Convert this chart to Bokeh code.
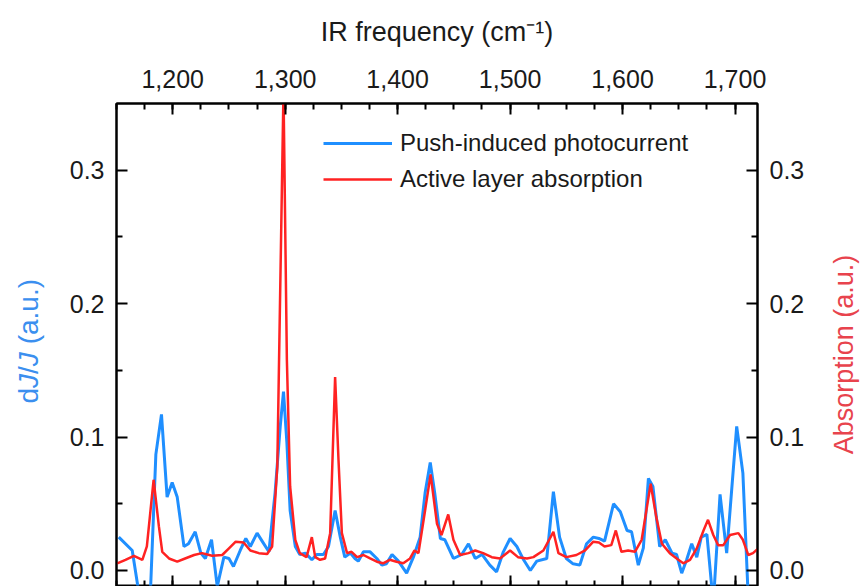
import math
from bokeh.plotting import figure
from bokeh.layouts import row
from bokeh.core.properties import value
from bokeh.models import (Range1d, LinearAxis, FixedTicker, NumeralTickFormatter,
                          PrintfTickFormatter, Legend, LegendItem)
from bokeh.embed import file_html
from bokeh.resources import INLINE

# ---------------- data ----------------
push_x = [1152, 1164, 1169, 1175, 1180, 1185, 1190, 1195, 1199.5, 1204, 1210, 1214, 1220,
          1225, 1229, 1234.5, 1239.6, 1245.5, 1250, 1254, 1260, 1265, 1269, 1275, 1279.5,
          1285.5, 1291, 1295.6, 1298.5, 1301.5, 1304.4, 1309, 1313, 1318, 1323.7, 1328,
          1334, 1338.5, 1344.4, 1349, 1353, 1358, 1362, 1365, 1369.6, 1375.5, 1381.5, 1386,
          1390, 1395, 1400.7, 1408, 1414, 1420, 1424.4, 1429, 1433, 1438, 1442, 1449.6,
          1457, 1463, 1469, 1475, 1482, 1488, 1494, 1500, 1506, 1512, 1518, 1523.7, 1532.6,
          1538.5, 1544, 1550, 1556, 1562, 1568, 1574, 1579, 1584, 1592, 1598, 1604, 1608,
          1614, 1618.5, 1623, 1627, 1633, 1638, 1644, 1648, 1652.6, 1657, 1661.5, 1666,
          1670, 1675, 1680.7, 1686.7, 1692.6, 1701.5, 1707, 1712, 1716]
push_y = [0.025, 0.015, -0.012, -0.03, -0.02, 0.087, 0.117, 0.055, 0.066, 0.055, 0.018, 0.020,
          0.029, 0.013, 0.009, 0.023, -0.012, 0.010, 0.009, 0.003, 0.015, 0.024, 0.018, 0.028,
          0.022, 0.014, 0.058, 0.108, 0.134, 0.096, 0.045, 0.018, 0.012, 0.013, 0.008, 0.012,
          0.012, 0.018, 0.045, 0.025, 0.010, 0.013, 0.009, 0.007, 0.014, 0.014, 0.009, 0.004,
          0.005, 0.012, 0.007, -0.002, 0.010, 0.025, 0.058, 0.081, 0.058, 0.024, 0.023, 0.009,
          0.012, 0.020, 0.009, 0.012, 0.004, -0.001, 0.014, 0.024, 0.018, 0.008, 0.000, 0.007,
          0.009, 0.059, 0.025, 0.009, 0.005, 0.004, 0.020, 0.025, 0.024, 0.022, 0.050, 0.044,
          0.030, 0.029, 0.004, 0.017, 0.069, 0.063, 0.018, 0.023, 0.013, 0.012, -0.002, 0.008,
          0.020, 0.010, 0.025, 0.027, -0.025, 0.057, 0.013, 0.108, 0.073, -0.025, -0.03]

abs_x = [1150.7, 1158, 1165.5, 1173, 1177, 1183, 1187.7, 1190.7, 1196.7, 1204, 1211, 1219,
         1226, 1235, 1244, 1250, 1256, 1263, 1269, 1276.6, 1284, 1288.4, 1293, 1298.5,
         1301.5, 1304.4, 1309, 1313, 1319, 1323.7, 1326.7, 1331, 1335.5, 1340, 1344.4,
         1347.4, 1350.4, 1355, 1359, 1364, 1369.6, 1375.5, 1381.5, 1387, 1393, 1399, 1405,
         1411, 1415, 1418.5, 1424.4, 1429.3, 1435, 1439, 1445, 1449.6, 1455.6, 1463, 1469,
         1476, 1483.7, 1491, 1500, 1507, 1515, 1520.7, 1529.6, 1538.5, 1543, 1550, 1559,
         1566.7, 1574, 1579, 1584, 1590, 1594, 1599, 1605, 1611, 1617, 1625, 1630, 1635,
         1642, 1649.6, 1654, 1660, 1666, 1672, 1676, 1680.7, 1685, 1689.6, 1695.6, 1703,
         1707, 1711.8, 1716, 1720.7]
abs_y = [0.0054, 0.008, 0.011, 0.008, 0.018, 0.068, 0.033, 0.014, 0.009, 0.0066, 0.009, 0.0116,
         0.013, 0.011, 0.0116, 0.0166, 0.0216, 0.021, 0.015, 0.013, 0.0124, 0.018, 0.078, 0.36,
         0.158, 0.063, 0.023, 0.013, 0.010, 0.025, 0.010, 0.008, 0.009, 0.028, 0.145,
         0.083, 0.028, 0.013, 0.014, 0.010, 0.0116, 0.009, 0.0066, 0.0054, 0.008, 0.0066, 0.0054,
         0.009, 0.015, 0.013, 0.045, 0.072, 0.035, 0.0266, 0.042, 0.023, 0.0116, 0.013, 0.015,
         0.013, 0.010, 0.009, 0.015, 0.010, 0.009, 0.010, 0.015, 0.029, 0.013, 0.010, 0.0116,
         0.015, 0.0216, 0.021, 0.018, 0.019, 0.030, 0.014, 0.015, 0.014, 0.023, 0.065, 0.040, 0.020,
         0.013, 0.008, 0.0054, 0.008, 0.0166, 0.030, 0.038, 0.0266, 0.019, 0.019, 0.0266, 0.028,
         0.023, 0.0116, 0.013, 0.0166]

x_major_ticks = [1200, 1300, 1400, 1500, 1600, 1700]
y_major_ticks = [0.0, 0.1, 0.2, 0.3]
series_labels = ["Push-induced photocurrent", "Active layer absorption"]
left_title_parts = ["d", "J", "/", "J", "\u00a0(a.u.)"]
left_title_styles = ["normal", "italic", "normal", "italic", "normal"]
right_title = "Absorption (a.u.)"

# ---------------- styling ----------------
BLUE = "#1f8fff"
RED = "#ff2222"
BLUE_LABEL = "#3b8fef"
RED_LABEL = "#e8434d"
FONT = "Liberation Sans"
TEXT = "#1a1a1a"

H = 586
LEFT_W, RIGHT_W = 45, 40          # narrow side panels holding the y titles
W = 861 - LEFT_W - RIGHT_W         # main plot width
LEFT, RIGHT, TOP, BOTTOM = 71, 64, 103, 0

p = figure(width=W, height=H, output_backend="svg", toolbar_location=None,
           x_range=Range1d(1150, 1720), y_range=Range1d(-0.012, 0.35),
           x_axis_location="above",
           min_border_left=LEFT, min_border_right=RIGHT,
           min_border_top=TOP, min_border_bottom=BOTTOM)
p.grid.visible = False
p.outline_line_color = "black"
p.outline_line_width = 2
p.background_fill_color = "white"
p.border_fill_color = "white"

x_minor = [1150 + 25 * k for k in range(24)]
y_minor = [0.05, 0.15, 0.25]


def style_axis(ax):
    ax.axis_line_color = "black"
    ax.axis_line_width = 2
    ax.major_tick_in = 11
    ax.major_tick_out = 0
    ax.major_tick_line_width = 2
    ax.minor_tick_in = 6
    ax.minor_tick_out = 0
    ax.minor_tick_line_width = 2
    ax.major_label_text_font = FONT
    ax.major_label_text_font_size = "25px"
    ax.major_label_text_color = TEXT
    ax.major_label_standoff = 12
    ax.axis_label_text_font = FONT
    ax.axis_label_text_font_size = "27px"
    ax.axis_label_text_font_style = "normal"


# top x axis
xa = p.xaxis[0]
style_axis(xa)
xa.ticker = FixedTicker(ticks=x_major_ticks, minor_ticks=x_minor)
xa.formatter = NumeralTickFormatter(format="0,0")
xa.major_label_standoff = 16
xa.axis_label = "IR frequency (cm\u207b\u00b9)"
xa.axis_label_text_color = TEXT
xa.axis_label_standoff = 20

# left y axis
ya = p.yaxis[0]
style_axis(ya)
ya.ticker = FixedTicker(ticks=y_major_ticks, minor_ticks=y_minor)
ya.formatter = PrintfTickFormatter(format="%.1f")

# right y axis
yr = LinearAxis()
style_axis(yr)
yr.ticker = FixedTicker(ticks=y_major_ticks, minor_ticks=y_minor)
yr.formatter = PrintfTickFormatter(format="%.1f")
p.add_layout(yr, "right")

# bottom axis (ticks only; its labels are cropped away in the reference)
xb = LinearAxis()
style_axis(xb)
xb.ticker = FixedTicker(ticks=x_major_ticks, minor_ticks=x_minor)
xb.major_label_text_font_size = "0px"
xb.major_label_standoff = 0
xb.major_label_text_alpha = 0
p.add_layout(xb, "below")

# lines
r_blue = p.line(push_x, push_y, line_color=BLUE, line_width=3)
r_red = p.line(abs_x, abs_y, line_color=RED, line_width=2.5)

# legend
frame_h = H - TOP - BOTTOM
legend = Legend(items=[LegendItem(label=series_labels[0], renderers=[r_blue]),
                       LegendItem(label=series_labels[1], renderers=[r_red])],
                location=(207, frame_h - 91),
                border_line_color=None, background_fill_alpha=0,
                label_text_font=FONT, label_text_font_size="24px",
                label_text_color=TEXT,
                glyph_width=69, glyph_height=30, label_height=30,
                label_standoff=8, spacing=6, padding=0, margin=0)
p.add_layout(legend)


def side_panel(width):
    # a row aligns this panel's frame with the main frame (page y 103..586),
    # so its y range is expressed in pixels measured up from the page bottom
    f = figure(width=width, height=H, output_backend="svg", toolbar_location=None,
               x_range=Range1d(0, width), y_range=Range1d(0, H - TOP),
               x_axis_location=None, y_axis_location=None,
               min_border=0, min_border_left=0, min_border_right=0,
               min_border_top=TOP, min_border_bottom=0)
    f.grid.visible = False
    f.outline_line_color = None
    f.background_fill_color = "white"
    f.border_fill_color = "white"
    return f


# left title: d J / J (a.u.) with italic J, reading bottom-to-top
lp = side_panel(LEFT_W)
TITLE_PX = 28
char_w = {"d": 0.556, "J": 0.5, "/": 0.278, "\u00a0(a.u.)": 2.612}   # em widths
yy = H - 403
for part, style in zip(left_title_parts, left_title_styles):
    lp.text(x=[28], y=[yy], text=[part], angle=math.pi / 2,
            text_align="left", text_baseline="middle",
            text_font=value(FONT), text_font_size=value(f"{TITLE_PX}px"),
            text_font_style=value(style), text_color=BLUE_LABEL)
    yy += char_w[part] * TITLE_PX

# right title, reading bottom-to-top
rp = side_panel(RIGHT_W)
rp.text(x=[843 - (861 - RIGHT_W)], y=[H - 354], text=[right_title], angle=math.pi / 2,
        text_align="center", text_baseline="middle",
        text_font=value(FONT), text_font_size=value("27px"),
        text_color=RED_LABEL)

layout = row(lp, p, rp)
open("out.html", "w").write(file_html(layout, INLINE))
